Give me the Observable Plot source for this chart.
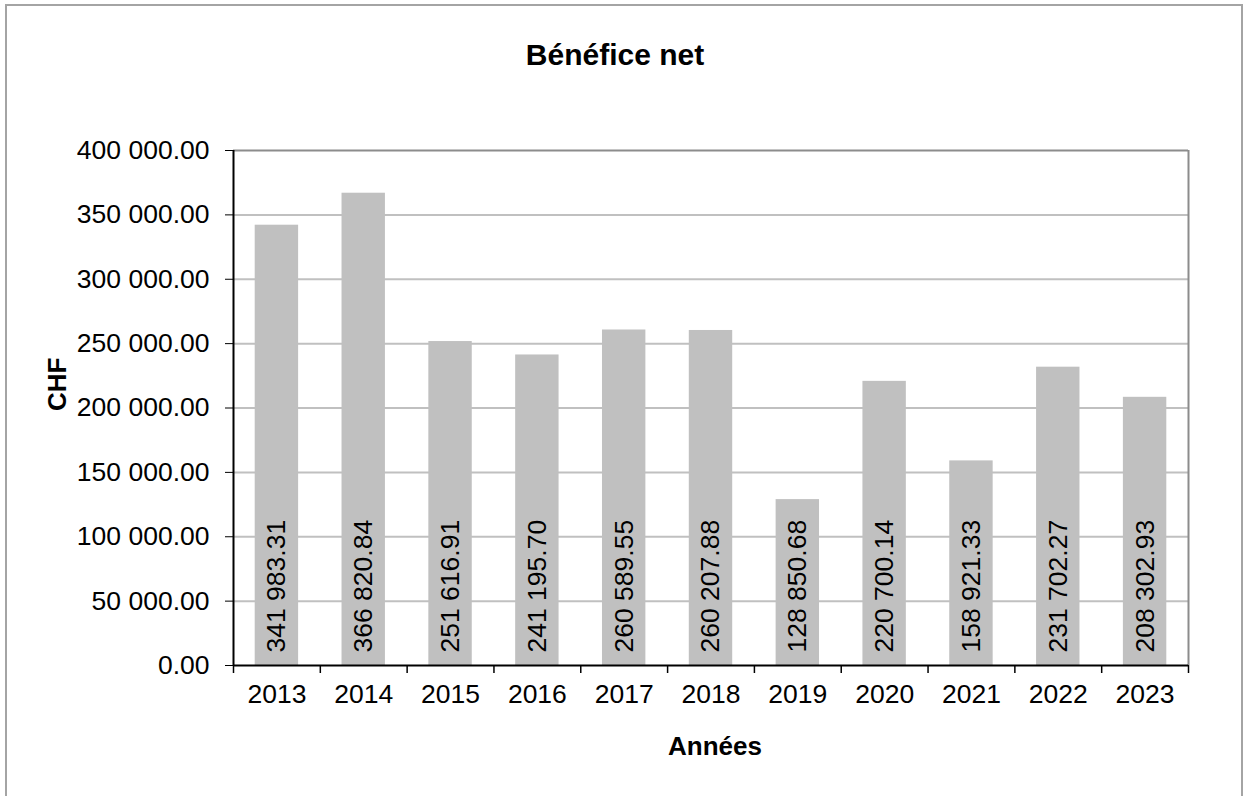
<!DOCTYPE html>
<html>
<head>
<meta charset="utf-8">
<script src="https://cdn.jsdelivr.net/npm/d3@7"></script>
<script src="https://cdn.jsdelivr.net/npm/@observablehq/plot@0.6"></script>
<style>
  html, body { margin: 0; padding: 0; background: #fff; }
  #wrap { position: relative; width: 1245px; height: 796px; overflow: hidden; font-family: "Liberation Sans", Arial, sans-serif; }
  #chart svg { display: block; }
  #border { position: absolute; left: 5px; top: 4px; width: 1234px; height: 900px; border: 2px solid #a4a4a4; pointer-events: none; }
  #title { position: absolute; left: 0; width: 1230px; top: 38px; text-align: center; font-weight: bold; font-size: 30px; color: #000; }
</style>
</head>
<body>
<div id="wrap">
  <div id="chart"></div>
  <div id="title">Bénéfice net</div>
  <div id="border"></div>
</div>
<script>
const years = ["2013","2014","2015","2016","2017","2018","2019","2020","2021","2022","2023"];
const values = [341983.31, 366820.84, 251616.91, 241195.70, 260589.55, 260207.88, 128850.68, 220700.14, 158921.33, 231702.27, 208302.93];
const yTicks = [0, 50000, 100000, 150000, 200000, 250000, 300000, 350000, 400000];
const xTitle = "Années";
const yTitle = "CHF";

const data = years.map((y, i) => ({year: y, value: values[i]}));
const loc = d3.formatLocale({thousands: " ", decimal: ".", grouping: [3], currency: ["", ""]});
const fmt = loc.format(",.2f");

const W = 1245, H = 796, ML = 233, MR = 57, MT = 150, MB = 131;
const step = (W - ML - MR) / years.length;
const font = "Liberation Sans, Arial, sans-serif";
const FS = 26.5;

const chart = Plot.plot({
  width: W, height: H,
  marginLeft: ML, marginRight: MR, marginTop: MT, marginBottom: MB,
  style: {fontFamily: font, background: "transparent", color: "#000"},
  x: {domain: years, paddingInner: 0.5, paddingOuter: 0.25, round: false},
  y: {domain: [0, 400000]},
  marks: [
    Plot.ruleY(yTicks.slice(1, -1), {stroke: "#c0c0c0", strokeWidth: 2}),
    Plot.ruleY([400000], {stroke: "#8c8c8c", strokeWidth: 2}),
    Plot.ruleX([years[years.length - 1]], {dx: step / 2, stroke: "#8c8c8c", strokeWidth: 2}),
    Plot.barY(data, {x: "year", y: "value", fill: "#c0c0c0"}),
    Plot.text(data, {x: "year", y: 0, text: d => fmt(d.value), rotate: -90, textAnchor: "start", lineAnchor: "middle", dy: -13, fontSize: FS, fill: "#000"}),
    Plot.ruleY([0], {stroke: "#000", strokeWidth: 2}),
    Plot.ruleX([years[0]], {dx: -step / 2, stroke: "#000", strokeWidth: 2}),
    Plot.ruleX(years, {x: d => d, dx: -step / 2, y1: 0, y2: 0, insetBottom: -8, stroke: "#000", strokeWidth: 1.5}),
    Plot.ruleX([years[years.length - 1]], {dx: step / 2, y1: 0, y2: 0, insetBottom: -8, stroke: "#000", strokeWidth: 1.5}),
    Plot.axisY({ticks: yTicks, tickFormat: fmt, tickSize: 8, tickPadding: 16, fontSize: FS, label: null, stroke: "#000"}),
    Plot.axisX({tickSize: 0, tickPadding: 19, fontSize: FS, label: null}),
    Plot.text([xTitle], {frameAnchor: "bottom", dy: 81, fontSize: 26, fontWeight: "bold", lineAnchor: "middle", dx: 4}),
    Plot.text([yTitle], {frameAnchor: "left", dx: -176, dy: 3, rotate: -90, fontSize: 26, fontWeight: "bold", lineAnchor: "middle"})
  ]
});
document.getElementById("chart").appendChild(chart);
</script>
</body>
</html>
